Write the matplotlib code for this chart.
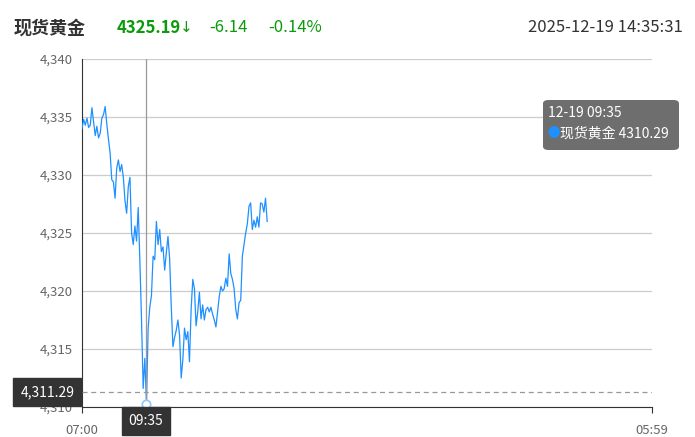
import matplotlib
matplotlib.use("Agg")
import matplotlib.pyplot as plt
from matplotlib.patches import FancyBboxPatch
import numpy as np

plt.rcParams['font.family'] = ['Noto Sans CJK SC', 'DejaVu Sans']

# spot gold price, one reading every 4 minutes from 07:00
step_min = 4
prices = [4334.0, 4334.8, 4334.3, 4334.9, 4334.1, 4334.3, 4335.8, 4334.6, 4333.4, 4334.2,
          4333.2, 4333.6, 4334.9, 4335.2, 4335.9, 4334.4, 4333.1, 4331.9, 4329.6, 4329.4,
          4328.0, 4330.6, 4331.3, 4330.3, 4330.9, 4329.8, 4327.8, 4326.7, 4329.0, 4329.8,
          4325.0, 4324.0, 4325.6, 4324.3, 4327.2, 4322.6, 4317.5, 4311.6, 4314.2, 4310.29,
          4316.8, 4318.6, 4319.6, 4323.0, 4322.7, 4326.0, 4324.0, 4325.3, 4323.4, 4323.8,
          4321.8, 4323.3, 4324.7, 4322.8, 4318.6, 4315.2, 4316.0, 4316.6, 4317.5, 4316.2,
          4312.5, 4314.1, 4316.8, 4315.8, 4316.5, 4313.9, 4318.4, 4321.0, 4320.2, 4317.0,
          4318.2, 4319.9, 4317.6, 4318.8, 4317.5, 4318.4, 4318.6, 4318.2, 4318.6, 4318.0,
          4317.5, 4316.9, 4318.2, 4319.5, 4320.4, 4320.0, 4320.2, 4321.1, 4320.4, 4323.2,
          4321.5, 4321.0, 4320.2, 4318.4, 4317.6, 4319.0, 4319.2, 4323.0, 4324.0, 4325.0,
          4325.8, 4327.3, 4327.6, 4325.3, 4326.1, 4325.5, 4326.4, 4325.5, 4327.6, 4327.5,
          4326.8, 4328.0, 4326.0]
minutes = np.arange(len(prices)) * step_min

y_ticks = [4310, 4315, 4320, 4325, 4330, 4335, 4340]
x_ticks = [0, 1379]
x_labels = ["07:00", "05:59"]

name = "现货黄金"
last_price = "4325.19"
arrow = "↓"
change = "-6.14"
change_pct = "-0.14%"
stamp = "2025-12-19 14:35:31"

cursor_min = 155
cursor_label = "09:35"
cursor_value = 4310.29
cursor_y = 4311.29
tip_date = "12-19 09:35"

blue = '#1e90ff'
green = '#0a9a0a'

fig = plt.figure(figsize=(6.95, 4.37), dpi=100)
ax = fig.add_axes([82/695, 1-407/437, 570/695, 348/437])

ax.plot(minutes, prices, color=blue, lw=0.9, zorder=3)
ax.set_xlim(0, 1379)
ax.set_ylim(4310, 4340)

ax.set_yticks(y_ticks)
ax.set_yticklabels(["{:,}".format(v) for v in y_ticks])
ax.set_xticks(x_ticks)
ax.set_xticklabels(x_labels)
ax.grid(axis='y', color='#cccccc', lw=0.9)
ax.tick_params(axis='y', length=0, labelsize=9.5, labelcolor='#666666', pad=7)
ax.tick_params(axis='x', length=4, color='#333333', labelsize=9.5, labelcolor='#666666', pad=8)
for s in ['top', 'right']:
    ax.spines[s].set_visible(False)
ax.spines['left'].set_color('#333333')
ax.spines['bottom'].set_color('#333333')

# crosshair
ax.axvline(cursor_min, color='#999999', lw=0.9, zorder=4)
ax.axhline(cursor_y, color='#999999', lw=0.9, ls=(0, (4, 3)), zorder=4)
ax.plot([cursor_min], [cursor_value], marker='o', ms=6, mfc='white', mec='#8cc8ff',
        mew=1.2, zorder=5, clip_on=False)

ax.annotate("{:,.2f}".format(cursor_y), xy=(0, cursor_y), xycoords=('axes fraction', 'data'),
            xytext=(-25, 0), textcoords='offset points', ha='center', va='center',
            color='white', fontsize=10,
            bbox=dict(boxstyle='square,pad=0.5', fc='#333333', ec='#333333'),
            annotation_clip=False, zorder=6)
ax.annotate(cursor_label, xy=(cursor_min, 0), xycoords=('data', 'axes fraction'),
            xytext=(0, -10), textcoords='offset points', ha='center', va='center',
            color='white', fontsize=10,
            bbox=dict(boxstyle='square,pad=0.5', fc='#333333', ec='#333333'),
            annotation_clip=False, zorder=6)

# tooltip
tip = FancyBboxPatch((543/695, 1-150/437), 136/695, 50/437,
                     boxstyle='round,pad=0,rounding_size=0.008',
                     transform=fig.transFigure, fc='#6e6e6e', ec='none', zorder=10)
fig.patches.append(tip)
fig.text(548/695, 1-113/437, tip_date, color='white', fontsize=10, va='center', zorder=11)
fig.text(547/695, 1-134/437, "●", color=blue, fontsize=9, va='center', zorder=11)
fig.text(560/695, 1-134/437, name + " " + "{:.2f}".format(cursor_value),
         color='white', fontsize=10, va='center', zorder=11)

# header
fig.text(14/695, 1-28/437, name, fontsize=13, fontweight='bold', color='#333333', va='center')
fig.text(117/695, 1-28/437, last_price, fontsize=12, fontweight='bold', color=green, va='center')
fig.text(180/695, 1-28/437, arrow, fontsize=11, color=green, va='center', family=['DejaVu Sans'])
fig.text(209/695, 1-28/437, change, fontsize=12, color=green, va='center')
fig.text(268/695, 1-28/437, change_pct, fontsize=12, color=green, va='center')
fig.text(683/695, 1-28/437, stamp, fontsize=12, color='#333333', va='center', ha='right')

fig.savefig("out.png", dpi=100)
